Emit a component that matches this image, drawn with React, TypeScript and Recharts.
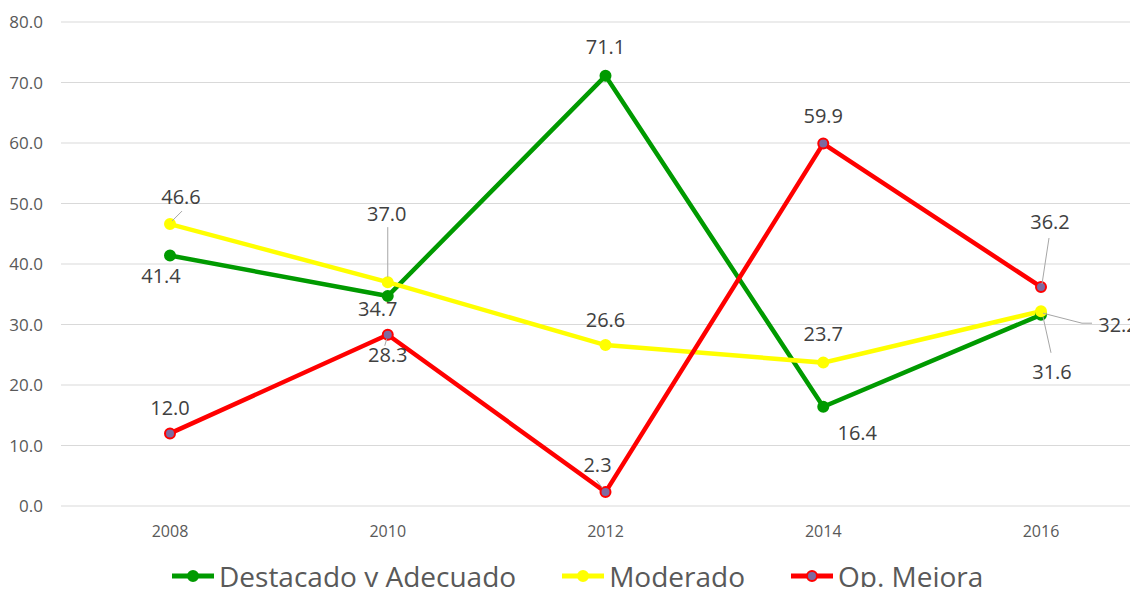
import { LineChart, Line, XAxis, YAxis, CartesianGrid } from "recharts";

const years = ["2008", "2010", "2012", "2014", "2016"];
const destacado = [41.4, 34.7, 71.1, 16.4, 31.6];
const moderado = [46.6, 37.0, 26.6, 23.7, 32.2];
const mejora = [12.0, 28.3, 2.3, 59.9, 36.2];
const yTicks = [0, 10, 20, 30, 40, 50, 60, 70, 80];

const data = years.map((year, i) => ({
  year,
  destacado: destacado[i],
  moderado: moderado[i],
  mejora: mejora[i],
}));

type Place = { dx: number; dy: number; lead?: number[][] };

// label placement relative to each point (px), with optional leader lines
const destacadoPlaces: Place[] = [
  { dx: -9, dy: 20 },
  { dx: -10, dy: 12 },
  { dx: 0, dy: -29 },
  { dx: 34, dy: 26 },
  { dx: 11, dy: 57, lead: [[2, 2], [10, 38]] },
];
const moderadoPlaces: Place[] = [
  { dx: 11, dy: -28, lead: [[2, -3], [12, -13]] },
  { dx: -1, dy: -69, lead: [[0, -5], [0, -55]] },
  { dx: 0, dy: -26 },
  { dx: 0, dy: -29 },
  { dx: 77, dy: 13, lead: [[2, 2], [41, 12], [51, 12]] },
];
const mejoraPlaces: Place[] = [
  { dx: 0, dy: -26 },
  { dx: 0, dy: 20, lead: [[-1, 4], [-3, 11]] },
  { dx: -8, dy: -28, lead: [[-9, -12], [-3, -4]] },
  { dx: 0, dy: -28 },
  { dx: 9, dy: -65, lead: [[1, -3], [8, -49]] },
];

const FONT = "'Open Sans', sans-serif";

function makeLabel(places: Place[]) {
  return (props: any) => {
    const { x, y, value, index } = props;
    const p = places[index];
    if (!p || value == null) return null;
    return (
      <g key={`lbl-${index}`}>
        {p.lead && (
          <polyline
            points={p.lead.map(([a, b]) => `${x + a},${y + b}`).join(" ")}
            fill="none"
            stroke="#a6a6a6"
            strokeWidth={1}
          />
        )}
        <text
          x={x + p.dx}
          y={y + p.dy}
          textAnchor="middle"
          dominantBaseline="central"
          fontSize={20}
          fontFamily={FONT}
          fill="#404040"
        >
          {Number(value).toFixed(1)}
        </text>
      </g>
    );
  };
}

const series = [
  { key: "destacado", name: "Destacado y Adecuado", color: "#009a00", dot: "#009a00", places: destacadoPlaces },
  { key: "moderado", name: "Moderado", color: "#ffff00", dot: "#ffff00", places: moderadoPlaces },
  { key: "mejora", name: "Op. Mejora", color: "#ff0000", dot: "#7d6aa0", places: mejoraPlaces },
];

export default function App() {
  return (
    <div
      style={{
        position: "relative",
        width: 1138,
        height: 595,
        margin: -8,
        overflow: "hidden",
        background: "#fff",
        fontFamily: FONT,
      }}
    >
      <LineChart
        width={1150}
        height={595}
        data={data}
        margin={{ top: 22, right: 0, bottom: 55, left: 0 }}
      >
        <CartesianGrid vertical={false} stroke="#d9d9d9" strokeWidth={1} />
        <XAxis
          dataKey="year"
          height={34}
          padding={{ left: 109, right: 109 }}
          axisLine={false}
          tickLine={false}
          tickMargin={14}
          tick={{ fontSize: 16, fill: "#595959", fontFamily: FONT }}
        />
        <YAxis
          width={61}
          domain={[0, 80]}
          ticks={yTicks}
          axisLine={false}
          tickLine={false}
          tickMargin={12}
          tickFormatter={(v: number) => v.toFixed(1)}
          tick={{ fontSize: 17, fill: "#595959", fontFamily: FONT }}
        />
        {series.map((s) => (
          <Line
            key={s.key}
            dataKey={s.key}
            name={s.name}
            stroke={s.color}
            strokeWidth={4.5}
            dot={{ r: 5, fill: s.dot, stroke: s.color, strokeWidth: 2 }}
            activeDot={false}
            label={makeLabel(s.places)}
            isAnimationActive={false}
          />
        ))}
      </LineChart>

      {/* Legend */}
      <div
        style={{
          position: "absolute",
          left: 172,
          top: 558,
          height: 36,
          display: "flex",
          alignItems: "center",
          gap: 46,
        }}
      >
        {series.map((s) => (
          <div key={s.key} style={{ display: "flex", alignItems: "center" }}>
            <svg width={42} height={16} style={{ marginRight: 5 }}>
              <line x1={0} y1={8} x2={42} y2={8} stroke={s.color} strokeWidth={5} />
              <circle cx={21} cy={8} r={5} fill={s.dot} stroke={s.color} strokeWidth={2} />
            </svg>
            <span style={{ fontSize: 28, color: "#595959", lineHeight: "30px" }}>{s.name}</span>
          </div>
        ))}
      </div>
    </div>
  );
}
